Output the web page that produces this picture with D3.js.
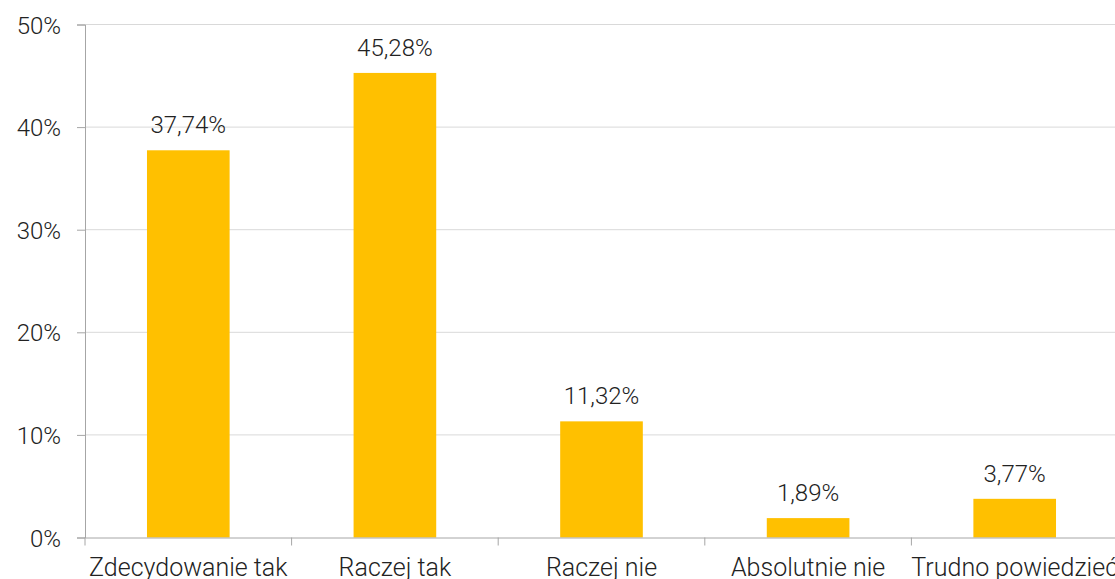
<!DOCTYPE html>
<html>
<head>
<meta charset="utf-8">
<script src="https://cdn.jsdelivr.net/npm/d3@7"></script>
<style>
    body { margin: 0; background: #fff; }
    text { font-family: Roboto, sans-serif; font-weight: 300; fill: #222; }
</style>
</head>
<body>
<div id="chart-area"></div>
<script>
const categories = ["Zdecydowanie tak", "Raczej tak", "Raczej nie", "Absolutnie nie", "Trudno powiedzieć"];
const values = [37.74, 45.28, 11.32, 1.89, 3.77];
const yTicks = [0, 10, 20, 30, 40, 50];

const margin = { top: 24.5, right: -3, bottom: 41.5, left: 85 };
const width = 1115 - margin.left - margin.right;
const height = 579 - margin.top - margin.bottom;

const svg = d3
    .select("#chart-area")
    .append("svg")
    .attr("width", 1115)
    .attr("height", 579);

const g = svg
    .append("g")
    .attr("transform", `translate(${margin.left}, ${margin.top})`);

//Scales
const xScale = d3.scaleBand().domain(categories).range([0, width]).padding(0);
const yScale = d3.scaleLinear().domain([0, 50]).range([height, 0]);
const barWidth = xScale.bandwidth() * 0.4;

// gridlines
g.append("g")
    .selectAll("line")
    .data(yTicks.filter((d) => d > 0))
    .enter()
    .append("line")
    .attr("x1", 0)
    .attr("x2", width)
    .attr("y1", (d) => yScale(d))
    .attr("y2", (d) => yScale(d))
    .attr("stroke", "#d9d9d9")
    .attr("stroke-width", 1);

//Axes
const yAxis = g.append("g").call(
    d3.axisLeft(yScale).tickValues(yTicks).tickFormat((d) => d + "%").tickSize(8).tickPadding(16)
);
yAxis.select(".domain").attr("stroke", "#a6a6a6");
yAxis.selectAll(".tick line").attr("stroke", "#a6a6a6");
yAxis.selectAll("text").attr("font-size", "24px").attr("fill", "#222").attr("font-family", "Roboto").attr("dy", "0.36em");

// bars
g.selectAll("rect")
    .data(values)
    .enter()
    .append("rect")
    .attr("x", (d, i) => xScale(categories[i]) + (xScale.bandwidth() - barWidth) / 2)
    .attr("width", barWidth)
    .attr("y", (d) => yScale(d))
    .attr("height", (d) => height - yScale(d))
    .attr("fill", "#ffc000");

// x axis
const xAxis = g
    .append("g")
    .attr("transform", `translate(0, ${height})`)
    .call(d3.axisBottom(xScale).tickSize(0).tickPadding(38.5));
xAxis.select(".domain").attr("stroke", "#a6a6a6");
xAxis.selectAll("text").attr("font-size", "25px").attr("fill", "#222").attr("font-family", "Roboto").attr("dy", "0");

// category separators
g.append("g")
    .selectAll("line")
    .data(d3.range(categories.length + 1))
    .enter()
    .append("line")
    .attr("x1", (i) => i * xScale.step())
    .attr("x2", (i) => i * xScale.step())
    .attr("y1", height)
    .attr("y2", height + 8)
    .attr("stroke", "#a6a6a6");

// value labels
g.selectAll(".value")
    .data(values)
    .enter()
    .append("text")
    .attr("class", "value")
    .attr("x", (d, i) => xScale(categories[i]) + xScale.bandwidth() / 2)
    .attr("y", (d) => yScale(d) - 17)
    .attr("text-anchor", "middle")
    .attr("font-size", "24px")
    .text((d) => d.toFixed(2).replace(".", ",") + "%");
</script>
</body>
</html>
